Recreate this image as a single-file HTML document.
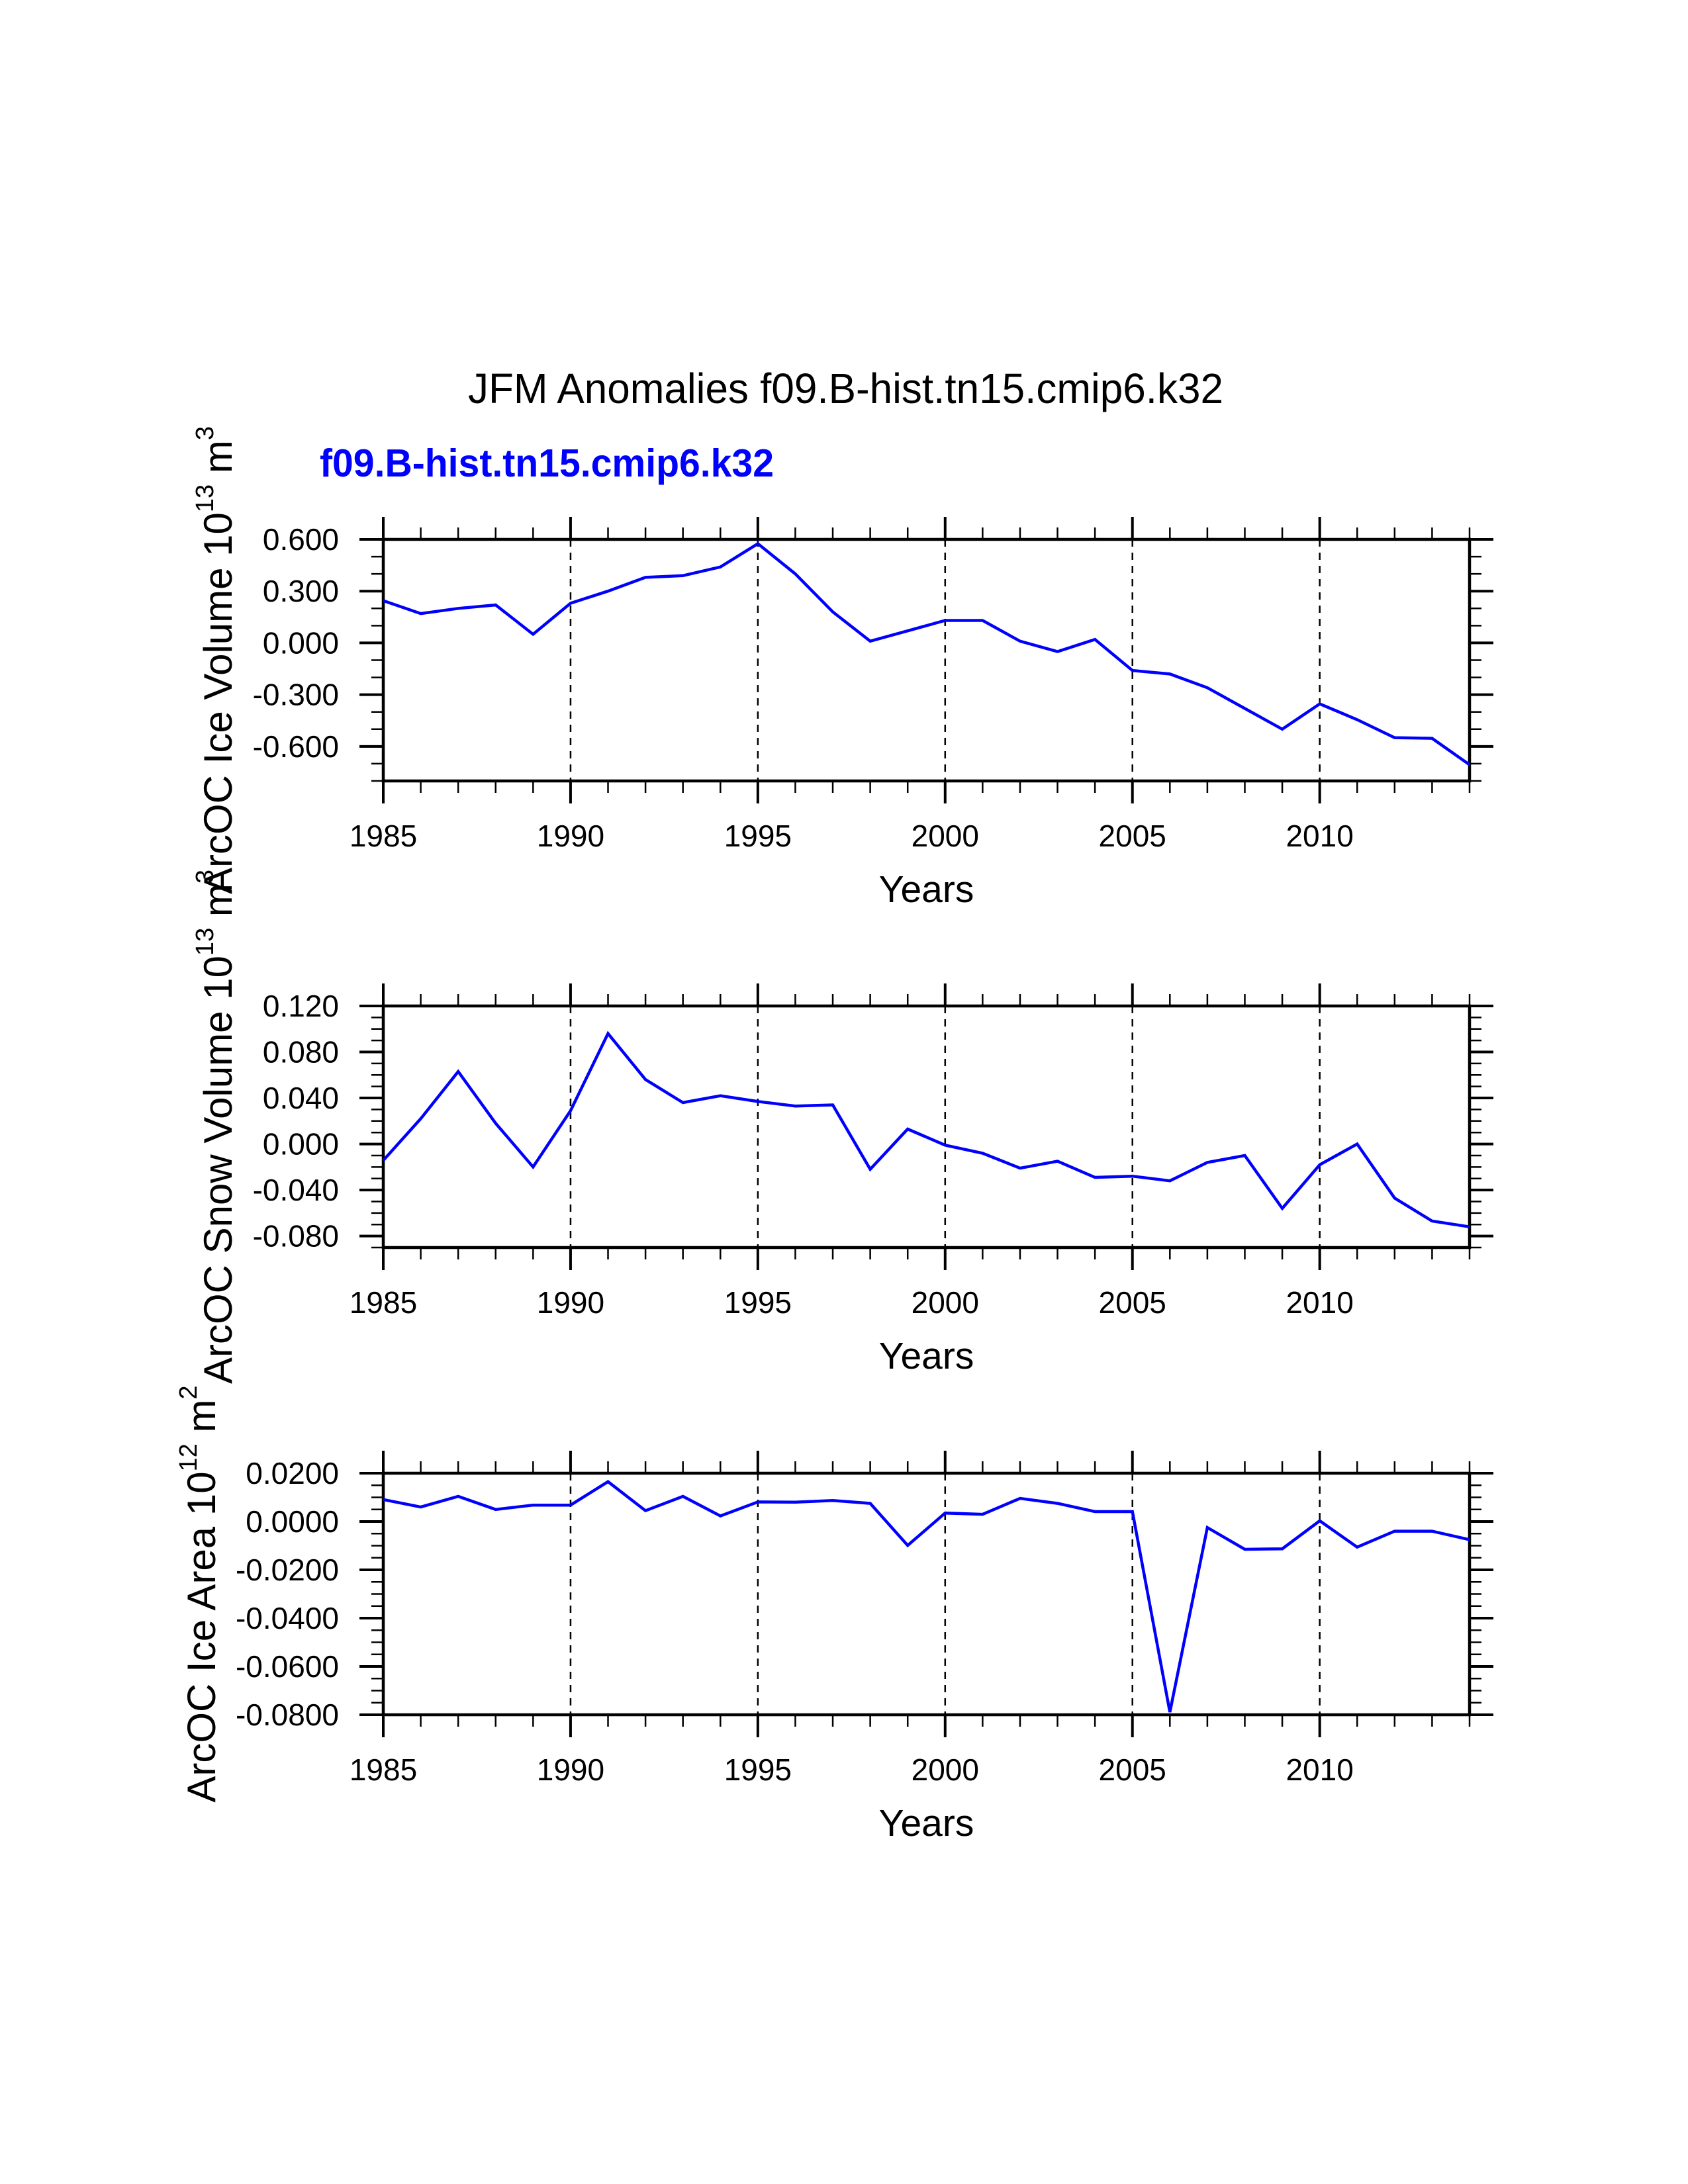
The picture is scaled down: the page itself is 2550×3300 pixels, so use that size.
<!DOCTYPE html>
<html><head><meta charset="utf-8"><style>
html,body{margin:0;padding:0;background:#fff;}
svg{display:block;}
text{font-family:"Liberation Sans",sans-serif;fill:#000;}
</style></head><body>
<svg id="fig" width="2550" height="3300" viewBox="0 0 2550 3300" xmlns="http://www.w3.org/2000/svg">
<rect width="2550" height="3300" fill="#fff"/>
<text x="707" y="609" font-size="64" textLength="1141" lengthAdjust="spacingAndGlyphs">JFM Anomalies f09.B-hist.tn15.cmip6.k32</text>
<text x="483" y="720" font-size="59" font-weight="bold" textLength="686" lengthAdjust="spacingAndGlyphs" style="fill:#0000ff">f09.B-hist.tn15.cmip6.k32</text>
<g id="plots"></g>
</svg>
<script>
const years = [1985,1986,1987,1988,1989,1990,1991,1992,1993,1994,1995,1996,1997,1998,1999,2000,2001,2002,2003,2004,2005,2006,2007,2008,2009,2010,2011,2012,2013,2014];
const iceVolume = [0.245,0.17,0.20,0.22,0.05,0.23,0.30,0.38,0.39,0.44,0.575,0.40,0.18,0.01,0.07,0.13,0.13,0.01,-0.05,0.02,-0.16,-0.18,-0.26,-0.38,-0.50,-0.353,-0.445,-0.549,-0.553,-0.706];
const snowVolume = [-0.0143,0.022,0.063,0.018,-0.020,0.029,0.096,0.056,0.036,0.042,0.037,0.033,0.034,-0.022,0.013,-0.001,-0.008,-0.021,-0.015,-0.029,-0.028,-0.032,-0.016,-0.010,-0.056,-0.018,0.000,-0.047,-0.067,-0.072];
const iceArea = [0.0091,0.006,0.0104,0.005,0.0068,0.0068,0.0165,0.0045,0.0104,0.0023,0.0081,0.008,0.0087,0.0075,-0.0099,0.0035,0.003,0.0096,0.0075,0.0041,0.0041,-0.0789,-0.0025,-0.0115,-0.0113,0.0003,-0.0106,-0.004,-0.004,-0.0075];
const iceVolumeTicks = [0.6,0.3,0,-0.3,-0.6];
const iceVolumeTickLabels = ["0.600","0.300","0.000","-0.300","-0.600"];
const snowVolumeTicks = [0.12,0.08,0.04,0,-0.04,-0.08];
const snowVolumeTickLabels = ["0.120","0.080","0.040","0.000","-0.040","-0.080"];
const iceAreaTicks = [0.02,0,-0.02,-0.04,-0.06,-0.08];
const iceAreaTickLabels = ["0.0200","0.0000","-0.0200","-0.0400","-0.0600","-0.0800"];
const yearTicks = [1985,1990,1995,2000,2005,2010];
const yearTickLabels = ["1985","1990","1995","2000","2005","2010"];

const NS = "http://www.w3.org/2000/svg";
const root = document.getElementById('plots');
function mk(tag, attrs, parent){
  const e = document.createElementNS(NS, tag);
  for (const k in attrs) e.setAttribute(k, attrs[k]);
  (parent||root).appendChild(e);
  return e;
}
const L = 579, R = 2220;
function drawPanel(key, top, ymin, ymax, vals, ticks, tickLabels, minorStep, title, exp, unitExp, titleX){
  const bot = top + 365;
  const g = mk('g', {});
  
  
  const x = v => L + (v - years[0]) / (years[years.length-1] - years[0]) * (R - L);
  const y = v => bot - (v - ymin) / (ymax - ymin) * (bot - top);
  yearTicks.forEach(yr => {
    if (yr === years[0]) return;
    const d = mk('line', {x1:x(yr), x2:x(yr), y1:top, y2:bot, stroke:'#000', 'stroke-width':2.5, 'stroke-dasharray':'11 9'}, g);
    
    
  });
  for (let yr = years[0]; yr <= years[years.length-1]; yr++) {
    const major = yearTicks.includes(yr);
    const len = major ? 34 : 18, w = major ? 4 : 2.5;
    mk('line', {x1:x(yr), x2:x(yr), y1:top, y2:top-len, stroke:'#000', 'stroke-width':w}, g);
    mk('line', {x1:x(yr), x2:x(yr), y1:bot, y2:bot+len, stroke:'#000', 'stroke-width':w}, g);
  }
  const nMin = Math.round((ymax - ymin) / minorStep);
  for (let i = 0; i <= nMin; i++) {
    const v = ymin + i * minorStep;
    const major = ticks.some(t => Math.abs(t - v) < minorStep / 10);
    const len = major ? 36 : 18, w = major ? 4 : 2.5;
    mk('line', {x1:L, x2:L-len, y1:y(v), y2:y(v), stroke:'#000', 'stroke-width':w}, g);
    mk('line', {x1:R, x2:R+len, y1:y(v), y2:y(v), stroke:'#000', 'stroke-width':w}, g);
  }
  const f = mk('rect', {x:L, y:top, width:R-L, height:bot-top, fill:'none', stroke:'#000', 'stroke-width':4.5}, g);
  
  
  ticks.forEach((t, i) => {
    const tx = mk('text', {x:512, y:y(t)+16, 'font-size':46, 'text-anchor':'end'}, g);
    tx.textContent = tickLabels[i];
    
    
  });
  yearTicks.forEach((yr, i) => {
    const tx = mk('text', {x:x(yr), y:bot+99, 'font-size':46, 'text-anchor':'middle'}, g);
    tx.textContent = yearTickLabels[i];
    
    
  });
  const xt = mk('text', {x:(L+R)/2, y:bot+183, 'font-size':57, 'text-anchor':'middle'}, g);
  xt.textContent = 'Years';
  
  
  const yt = mk('text', {transform:'translate(' + titleX + ',' + ((top+bot)/2) + ') rotate(-90)', 'font-size':60, 'text-anchor':'middle'}, g);
  
  
  const s1 = mk('tspan', {}, yt); s1.textContent = title + ' 10';
  const s2 = mk('tspan', {dy:-28, 'font-size':38}, yt); s2.textContent = exp;
  const s3 = mk('tspan', {dy:28}, yt); s3.textContent = ' m';
  const s4 = mk('tspan', {dy:-28, 'font-size':38}, yt); s4.textContent = unitExp;
  const pts = vals.map((v, i) => x(years[i]).toFixed(1) + ',' + y(v).toFixed(1)).join(' ');
  const pl = mk('polyline', {points:pts, fill:'none', stroke:'#0000ff', 'stroke-width':4.5, 'stroke-linejoin':'miter'}, g);
  
  
}
drawPanel('ice-volume', 815, -0.8, 0.6, iceVolume, iceVolumeTicks, iceVolumeTickLabels, 0.1, 'ArcOC Ice Volume', '13', '3', 350);
drawPanel('snow-volume', 1520, -0.09, 0.12, snowVolume, snowVolumeTicks, snowVolumeTickLabels, 0.01, 'ArcOC Snow Volume', '13', '3', 350);
drawPanel('ice-area', 2226, -0.08, 0.02, iceArea, iceAreaTicks, iceAreaTickLabels, 0.005, 'ArcOC Ice Area', '12', '2', 325);
</script>
</body></html>
